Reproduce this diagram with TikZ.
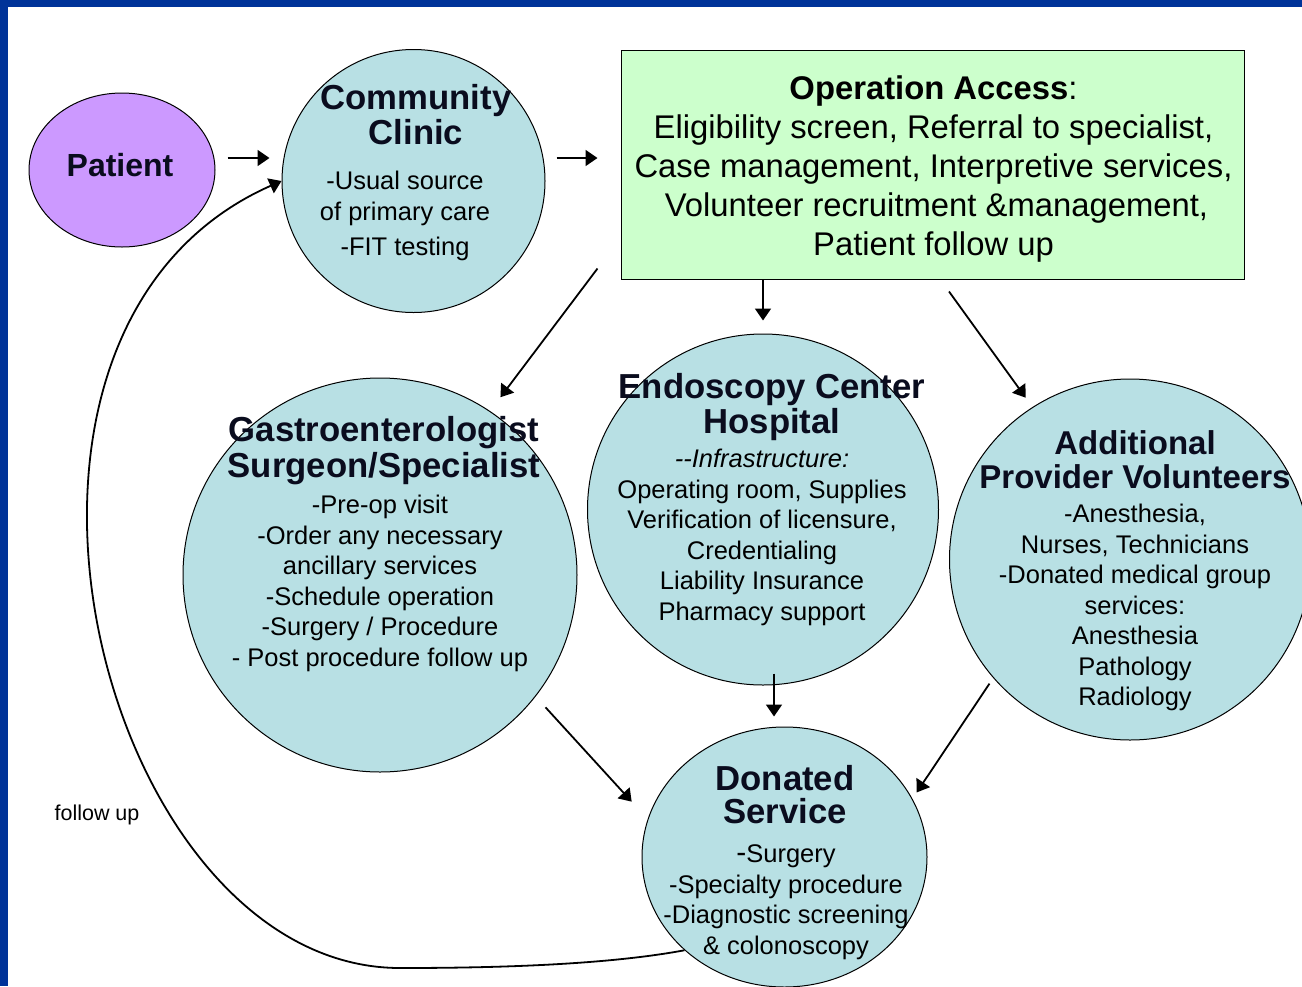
\documentclass[tikz,border=0pt]{standalone}
\usepackage{fontspec}
\setmainfont{Liberation Sans}
\usepackage{tikz}
\usetikzlibrary{positioning,arrows.meta,shapes.geometric,calc}
\definecolor{cBord}{RGB}{0,51,153}
\definecolor{cBulle}{RGB}{184,224,228}
\definecolor{cPatient}{RGB}{204,153,255}
\definecolor{cAcces}{RGB}{204,255,204}
\definecolor{cTitre}{RGB}{10,12,30}
\tikzset{
  >={Triangle[length=12pt,width=16pt]},
  bulle/.style={circle, draw=black, line width=1pt, fill=cBulle, inner sep=0pt, minimum size=#1},
  bulle/.default=300pt,
  titre/.style={align=center, inner sep=0pt, text=cTitre,
    font=\fontsize{34.7}{35}\selectfont\bfseries},
  texte/.style={align=center, inner sep=0pt, font=\fontsize{25.5}{30.5}\selectfont},
  fleche/.style={->, line width=1.8pt},
}

\begin{document}
\begin{tikzpicture}[x=1pt,y=-1pt]
  \useasboundingbox (0,0) rectangle (1302,986);
  % cadre
  \fill[cBord] (0,0) rectangle (1302,7);
  \fill[cBord] (0,0) rectangle (8,986);

  % patient et bulles
  \node[ellipse, draw=black, line width=1pt, fill=cPatient, inner sep=0pt,
        minimum width=186pt, minimum height=154pt] (patient) at (122,170) {};
  \node[bulle=263pt] (clinic) at (413.5,181) {};
  \node[bulle=394pt] (gastro) at (380,575) {};
  \node[bulle=351pt] (endo) at (763,509.5) {};
  \node[bulle=361pt] (addl) at (1130,559.5) {};
  \node[ellipse, draw=black, line width=1pt, fill=cBulle, inner sep=0pt,
        minimum width=285pt, minimum height=260pt] (donated) at (784.5,857) {};

  % encadré operation access
  \node[draw=black, line width=1pt, fill=cAcces, minimum width=623pt, minimum height=229pt] (ops) at (932.5,164.5) {};
  \node[align=center, inner sep=0pt, font=\fontsize{32.8}{39}\selectfont] (opsT) at (933.5,169.5)
    {\textbf{Operation Access}:\\Eligibility screen, Referral to specialist,\\
     Case management, Interpretive services,\\\hspace*{6pt}Volunteer recruitment \&management,\\
     Patient follow up};

  % textes des bulles
  \node[titre, font=\fontsize{32}{32}\selectfont\bfseries] (patientT) at (120,165) {Patient};
  \node[titre] (clinicT) at (416,114.5) {Community\\Clinic};
  \node[texte] (clinicB) at (405,216) {-Usual source\\of primary care\\[5pt]-FIT testing};
  \node[titre, font=\fontsize{34.7}{36}\selectfont\bfseries] (gastroT) at (384,451) {Gastroenterologist\\Surgeon/Specialist};
  \node[texte] (gastroB) at (380,583.5) {-Pre-op visit\\-Order any necessary\\ancillary services\\
    -Schedule operation\\-Surgery / Procedure\\- Post procedure follow up};
  \node[titre] (endoT) at (772,407) {Endoscopy Center\\Hospital};
  \node[texte] (endoB) at (762,537.5) {\textit{-{}-Infrastructure:}\\Operating room, Supplies\\
    Verification of licensure,\\Credentialing\\Liability Insurance\\Pharmacy support};
  \node[titre, font=\fontsize{33}{34}\selectfont\bfseries] (addlT) at (1135,460) {Additional\\Provider Volunteers};
  \node[texte] (addlB) at (1135,607.5) {-Anesthesia,\\Nurses, Technicians\\-Donated medical group\\
    services:\\Anesthesia\\Pathology\\Radiology};
  \node[titre, font=\fontsize{34.7}{33}\selectfont\bfseries] (donatedT) at (785,795) {Donated\\Service};
  \node[texte] (donatedB) at (786,902) {{\fontsize{30}{30}\selectfont -}Surgery\\-Specialty procedure\\
    -Diagnostic screening\\\& colonoscopy};
  \node[font=\fontsize{21.5}{24}\selectfont] (suivi) at (97,815) {follow up};

  % flèches
  \draw[fleche] ([shift={(12,-12)}]patient.east) -- ([shift={(-12,-23)}]clinic.west);
  \draw[fleche] ([shift={(11,-23)}]clinic.east) -- ([shift={(-23,-6.5)}]ops.west);
  \draw[fleche] (endo.north |- ops.south) -- ([shift={(0,-13)}]endo.north);
  \draw[fleche] ([shift={(-23,-11)}]ops.south west) -- ([shift={(10,-14)}]gastro.56);
  \draw[fleche] ([shift={(16.5,12)}]ops.south) -- ([shift={(-5.7,-10)}]addl.123);
  \draw[fleche] ([shift={(11,-12)}]endo.south) -- ([shift={(-10.5,-10)}]donated.north);
  \draw[fleche] ([shift={(12,8)}]gastro.-39) -- ([shift={(-20,-7)}]donated.160);
  \draw[fleche] ([shift={(-6,3)}]addl.222) -- ([shift={(6,-3)}]donated.26);
  % retour vers la clinique
  \draw[fleche] (donated.223) .. controls (600,966) and (480,968) .. (400,968)
    .. controls (100,968) and (-60,332) .. (clinic.west);
\end{tikzpicture}
\end{document}
